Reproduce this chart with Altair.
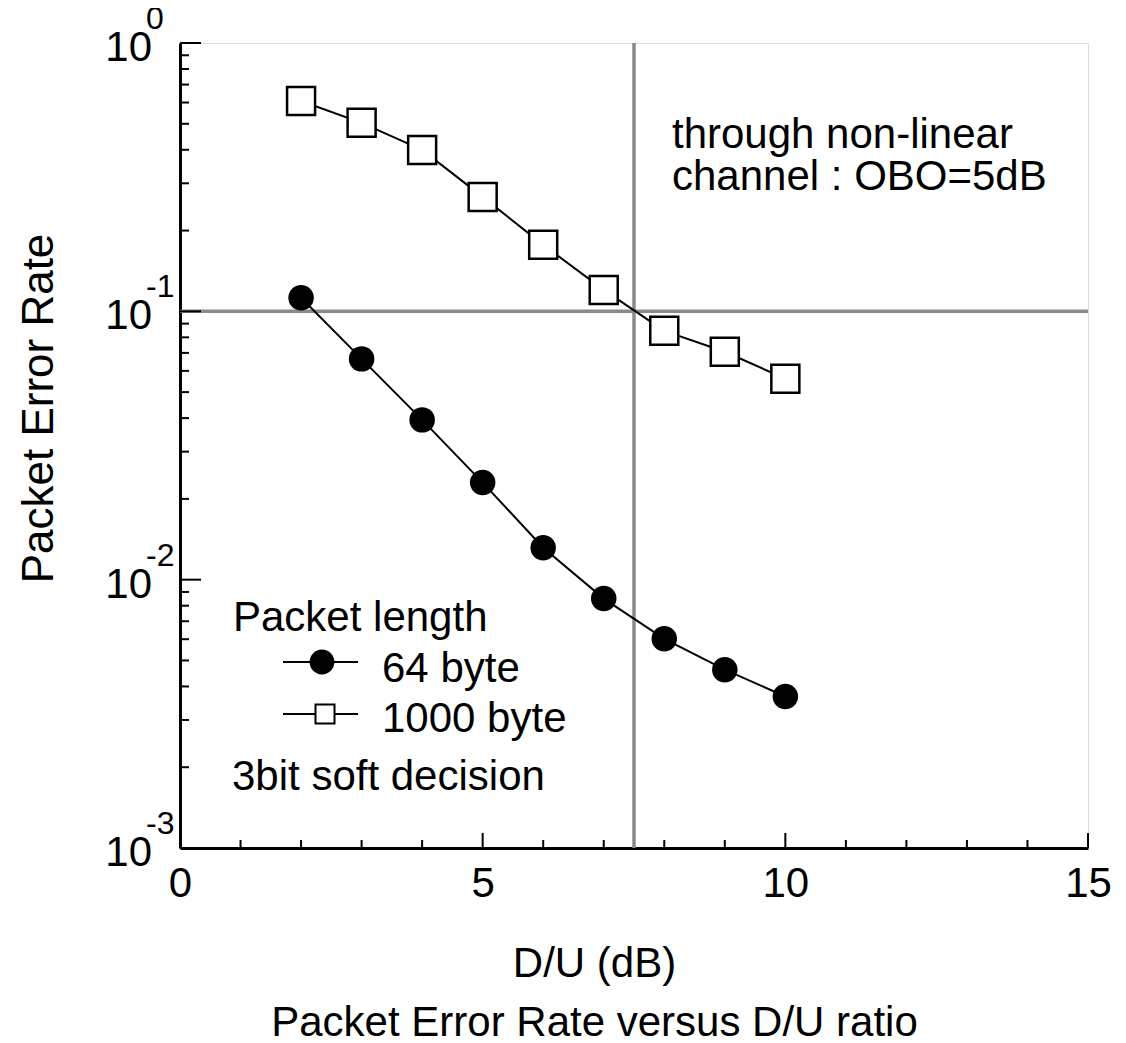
import altair as alt
import pandas as pd

# ---- data ----
du_db = [2, 3, 4, 5, 6, 7, 8, 9, 10]
per_64 = [0.1123, 0.0665, 0.0394, 0.0230, 0.01316, 0.00850, 0.00602, 0.00462, 0.00367]
per_1000 = [0.608, 0.504, 0.3995, 0.267, 0.1769, 0.1202, 0.0846, 0.0707, 0.0561]
series_names = ["64 byte", "1000 byte"]

x_major = [0, 5, 10, 15]
x_minor = [1, 2, 3, 4, 6, 7, 8, 9, 11, 12, 13, 14]
y_decades = [1, 0.1, 0.01, 0.001]
y_exponents = ["0", "-1", "-2", "-3"]
y_minor = [m * 10.0 ** e for e in (-3, -2, -1) for m in range(2, 10)]
ref_x = [7.5]
ref_y = [0.1]

FONT = "Liberation Sans"
W, H = 908, 805

df = pd.DataFrame({
    "du": du_db * 2,
    "per": per_64 + per_1000,
    "series": [series_names[0]] * len(du_db) + [series_names[1]] * len(du_db),
})

xs = alt.Scale(domain=[0, 15], nice=False, zero=False)
ys = alt.Scale(type="log", domain=[0.001, 1], nice=False)

x_axis = alt.Axis(values=x_major, format="d", labelFontSize=42, labelFont=FONT, labelColor="black",
                  ticks=False, tickSize=0, labelPadding=15, domainWidth=3, domainColor="black",
                  grid=False, labelFlush=False,
                  title=["D/U (dB)", "Packet Error Rate versus D/U ratio"],
                  titleFont=FONT, titleFontSize=42, titleFontWeight="normal", titleColor="black",
                  titleX=414, titleY=128, titleBaseline="alphabetic", titleLineHeight=59,
                  titleAlign="center")
y_axis = alt.Axis(labels=False, ticks=False, domainWidth=3, domainColor="black", grid=False,
                  title="Packet Error Rate", titleFont=FONT, titleFontSize=44,
                  titleFontWeight="normal", titleColor="black",
                  titleX=-128, titleY=365, titleAngle=270, titleBaseline="alphabetic",
                  titleAlign="center")

base = alt.Chart(df)

lines = base.mark_line(color="black", strokeWidth=2).encode(
    x=alt.X("du:Q", scale=xs, axis=x_axis),
    y=alt.Y("per:Q", scale=ys, axis=y_axis),
    detail="series:N",
)
circles = base.transform_filter(alt.datum.series == series_names[0]).mark_circle(
    color="black", size=650, opacity=1).encode(
    x=alt.X("du:Q", scale=xs), y=alt.Y("per:Q", scale=ys))
squares = base.transform_filter(alt.datum.series == series_names[1]).mark_point(
    shape="square", filled=True, fill="white", stroke="black", strokeWidth=2.5,
    size=784, opacity=1).encode(
    x=alt.X("du:Q", scale=xs), y=alt.Y("per:Q", scale=ys))

refv = alt.Chart(pd.DataFrame({"x": ref_x})).mark_rule(color="#8a8a8a", strokeWidth=3.5).encode(
    x=alt.X("x:Q", scale=xs))
refh = alt.Chart(pd.DataFrame({"y": ref_y})).mark_rule(color="#8a8a8a", strokeWidth=3.5).encode(
    y=alt.Y("y:Q", scale=ys))

# inward ticks
xt_major = alt.Chart(pd.DataFrame({"x": x_major})).mark_rule(color="black", strokeWidth=2).encode(
    x=alt.X("x:Q", scale=xs), y=alt.value(H), y2=alt.value(H - 15))
xt_minor = alt.Chart(pd.DataFrame({"x": x_minor})).mark_rule(color="black", strokeWidth=2).encode(
    x=alt.X("x:Q", scale=xs), y=alt.value(H), y2=alt.value(H - 8))
yt_major = alt.Chart(pd.DataFrame({"y": y_decades})).mark_rule(color="black", strokeWidth=2).encode(
    y=alt.Y("y:Q", scale=ys), x=alt.value(0), x2=alt.value(21))
yt_minor = alt.Chart(pd.DataFrame({"y": y_minor})).mark_rule(color="black", strokeWidth=2).encode(
    y=alt.Y("y:Q", scale=ys), x=alt.value(0), x2=alt.value(9))

# y tick labels with superscript exponents
ylab_df = pd.DataFrame({"y": y_decades, "base": ["10"] * 4, "exp": y_exponents})
ylab_base = alt.Chart(ylab_df).mark_text(font=FONT, fontSize=42, align="right",
                                         baseline="alphabetic", dy=18, color="black").encode(
    y=alt.Y("y:Q", scale=ys), x=alt.value(-28), text="base:N")
ylab_exp = alt.Chart(ylab_df).mark_text(font=FONT, fontSize=32, align="left",
                                        baseline="alphabetic", dy=-14, color="black").encode(
    y=alt.Y("y:Q", scale=ys), x=alt.value(-34), text="exp:N")


def txt(s, x, y, size=42):
    return alt.Chart(pd.DataFrame({"t": [s]})).mark_text(
        font=FONT, fontSize=size, align="left", baseline="alphabetic", color="black").encode(
        text="t:N", x=alt.value(x), y=alt.value(y))


leg_title = txt("Packet length", 53, 588)
leg_l1 = alt.Chart(pd.DataFrame({"a": [0]})).mark_rule(color="black", strokeWidth=2).encode(
    x=alt.value(103), x2=alt.value(178), y=alt.value(619))
leg_c = alt.Chart(pd.DataFrame({"a": [0]})).mark_circle(color="black", size=615, opacity=1).encode(
    x=alt.value(142), y=alt.value(619))
leg_t1 = txt(series_names[0], 202, 639)
leg_l2 = alt.Chart(pd.DataFrame({"a": [0]})).mark_rule(color="black", strokeWidth=2).encode(
    x=alt.value(103), x2=alt.value(178), y=alt.value(671))
leg_s = alt.Chart(pd.DataFrame({"a": [0]})).mark_point(
    shape="square", filled=True, fill="white", stroke="black", strokeWidth=2,
    size=361, opacity=1).encode(x=alt.value(145), y=alt.value(671))
leg_t2 = txt(series_names[1], 202, 689)
leg_note = txt("3bit soft decision", 52, 747)
ann1 = txt("through non-linear", 492, 105)
ann2 = txt("channel : OBO=5dB", 492, 147)

chart = alt.layer(
    refv, refh, lines, circles, squares,
    xt_major, xt_minor, yt_major, yt_minor,
    ylab_base, ylab_exp,
    leg_title, leg_l1, leg_c, leg_t1, leg_l2, leg_s, leg_t2, leg_note, ann1, ann2,
).properties(
    width=W, height=H,
    padding={"left": 172, "top": 35, "right": 30, "bottom": 194},
    autosize=alt.AutoSizeParams(type="none"),
    background="white",
).configure_view(
    stroke="black", strokeWidth=2
).configure(font=FONT)

chart.save("out.html", embed_options={"renderer": "svg", "actions": False})
